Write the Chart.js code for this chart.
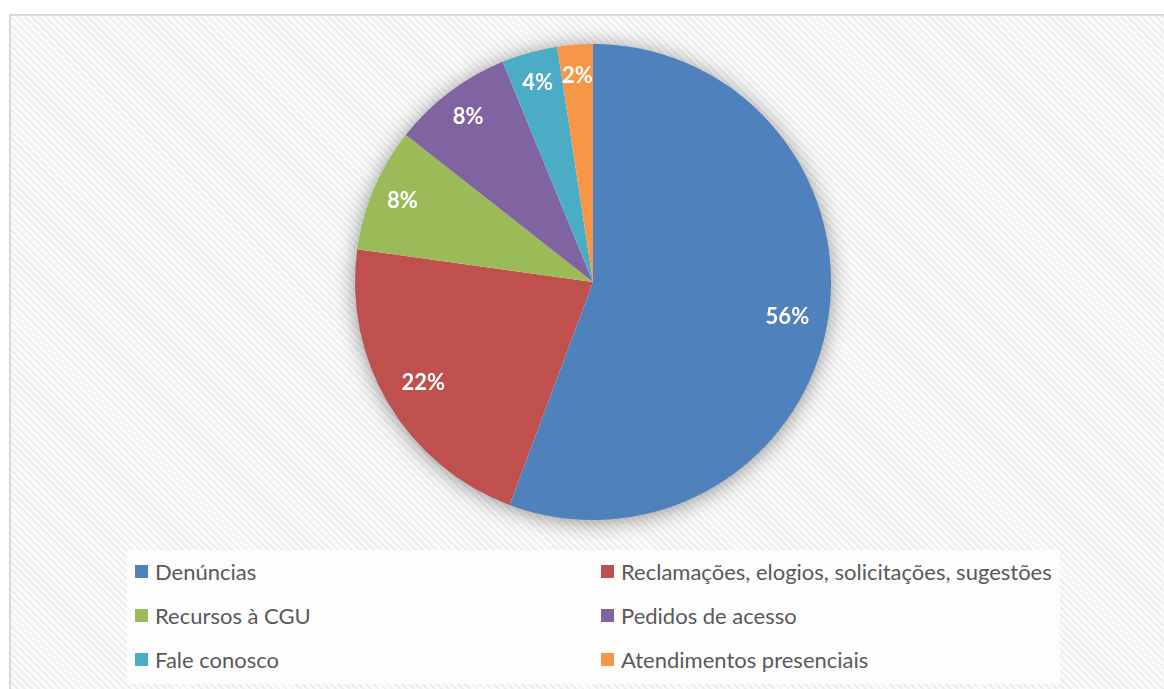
<!DOCTYPE html>
<html>
<head>
<meta charset="utf-8">
<script src="https://cdn.jsdelivr.net/npm/chart.js@4"></script>
<style>
    html, body { margin: 0; padding: 0; width: 1164px; height: 689px; overflow: hidden; background: #fff; }
    #frame {
        position: absolute; left: 9px; top: 14px; width: 1170px; height: 690px;
        border: 2px solid #d9d9d9; box-sizing: border-box;
        background: repeating-linear-gradient(45deg, #fbfbfb 0px, #fbfbfb 3px, #eeeeee 3px, #eeeeee 5px);
    }
    #chartBox { position: absolute; left: 335px; top: 24px; width: 516px; height: 516px; }
    #legend {
        position: absolute; left: 127px; top: 550px; width: 933px; height: 134px;
        background: rgba(255, 255, 255, 0.8);
        font-family: Lato, "Open Sans", sans-serif; font-size: 22px; color: #595959;
    }
    .item { position: absolute; display: flex; align-items: center; white-space: nowrap; }
    .swatch { width: 13px; height: 13px; margin-right: 7px; }
</style>
</head>
<body>
<div id="frame"></div>
<div id="chartBox"><canvas id="pieChart"></canvas></div>
<div id="legend"></div>
<script>
    // data (share of total, %)
    const categories = ["Denúncias", "Reclamações, elogios, solicitações, sugestões", "Recursos à CGU",
                        "Pedidos de acesso", "Fale conosco", "Atendimentos presenciais"];
    const shares = [55.7, 21.5, 8.4, 8.2, 3.8, 2.4];
    const sliceColors = ["#4F81BD", "#C0504D", "#9BBB59", "#8064A2", "#4BACC6", "#F79646"];

    // legend, two columns like the original
    const legend = document.getElementById("legend");
    categories.forEach((name, i) => {
        const item = document.createElement("div");
        item.className = "item";
        item.style.left = (i % 2 === 0 ? 8 : 474) + "px";
        item.style.top = (Math.floor(i / 2) * 44 + 8) + "px";
        item.innerHTML = `<span class="swatch" style="background:${sliceColors[i]}"></span>${name}`;
        legend.appendChild(item);
    });

    const pieShadow = {
        id: "pieShadow",
        beforeDatasetsDraw(chart) {
            const arc = chart.getDatasetMeta(0).data[0];
            if (!arc) return;
            const ctx = chart.ctx;
            ctx.save();
            ctx.shadowColor = "rgba(0,0,0,0.45)";
            ctx.shadowBlur = 22;
            ctx.shadowOffsetY = 2;
            ctx.fillStyle = "#ffffff";
            ctx.beginPath();
            ctx.arc(arc.x, arc.y, arc.outerRadius - 1, 0, Math.PI * 2);
            ctx.fill();
            ctx.restore();
        }
    };

    const sliceLabels = {
        id: "sliceLabels",
        afterDatasetsDraw(chart) {
            const ctx = chart.ctx;
            const values = chart.data.datasets[0].data;
            ctx.save();
            ctx.font = "bold 22px Lato, 'Open Sans', sans-serif";
            ctx.fillStyle = "#ffffff";
            ctx.textAlign = "center";
            ctx.textBaseline = "middle";
            chart.getDatasetMeta(0).data.forEach((arc, i) => {
                const p = arc.getProps(["x", "y", "startAngle", "endAngle", "outerRadius"], true);
                const mid = (p.startAngle + p.endAngle) / 2;
                const r = p.outerRadius * (i === 0 || i === 1 ? 0.83 : 0.87);
                ctx.fillText(Math.round(values[i]) + "%", p.x + Math.cos(mid) * r, p.y + Math.sin(mid) * r);
            });
            ctx.restore();
        }
    };

    new Chart(document.getElementById("pieChart"), {
        type: "pie",
        data: {
            labels: categories,
            datasets: [{
                data: shares,
                backgroundColor: sliceColors,
                borderWidth: 0
            }]
        },
        options: {
            responsive: true,
            maintainAspectRatio: false,
            animation: false,
            layout: { padding: 20 },
            plugins: {
                legend: { display: false },
                tooltip: { enabled: false }
            }
        },
        plugins: [pieShadow, sliceLabels]
    });
</script>
</body>
</html>
